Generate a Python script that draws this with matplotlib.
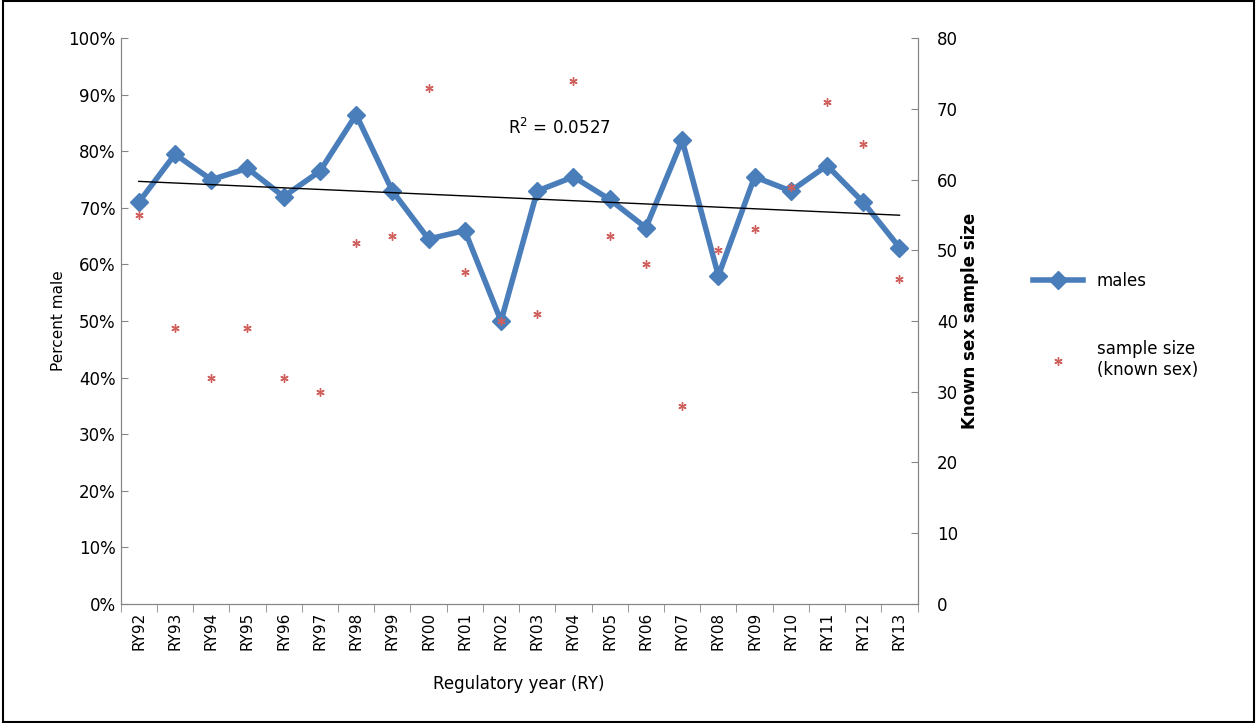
import numpy as np
import matplotlib.pyplot as plt
from matplotlib.ticker import PercentFormatter

years = ['RY92', 'RY93', 'RY94', 'RY95', 'RY96', 'RY97', 'RY98', 'RY99', 'RY00', 'RY01', 'RY02',
         'RY03', 'RY04', 'RY05', 'RY06', 'RY07', 'RY08', 'RY09', 'RY10', 'RY11', 'RY12', 'RY13']
males = [71, 79.5, 75, 77, 72, 76.5, 86.5, 73, 64.5, 66, 50,
         73, 75.5, 71.5, 66.5, 82, 58, 75.5, 73, 77.5, 71, 63]
sample_size = [55, 39, 32, 39, 32, 30, 51, 52, 73, 47, 40,
               41, 74, 52, 48, 28, 50, 53, 59, 71, 65, 46]

plt.rcParams['font.family'] = 'DejaVu Sans'
fig = plt.figure(figsize=(12.57, 7.23), dpi=100)
ax = fig.add_axes([0.096, 0.165, 0.634, 0.782])
ax2 = ax.twinx()

x = np.arange(len(years))
line, = ax.plot(x, males, color='#4a7ebb', lw=4, marker='D', ms=9, label='males', zorder=3)
coef = np.polyfit(x, males, 1)
ax.plot(x, np.polyval(coef, x), color='black', lw=1, zorder=4)
ax.text(10.2, 83, 'R$^2$ = 0.0527', fontsize=12)
pts, = ax2.plot(x, sample_size, ls='none', marker=(6, 2, 0), ms=6, mew=1,
                color='#d0605d', label='sample size\n(known sex)')

ax.set_xlim(-0.5, len(years) - 0.5)
ax.set_ylim(0, 100)
ax2.set_ylim(0, 80)
ax.set_yticks(np.arange(0, 101, 10))
ax.yaxis.set_major_formatter(PercentFormatter(decimals=0))
ax2.set_yticks(np.arange(0, 81, 10))
ax.set_xticks(x)
ax.set_xticklabels(years, rotation=90, fontsize=11)
ax.set_xticks(np.arange(-0.5, len(years)), minor=True)
ax.tick_params(axis='x', which='major', length=0, pad=6)
ax.tick_params(axis='x', which='minor', length=6, color='#868686')
ax.tick_params(axis='y', labelsize=12, color='#868686', direction='in', length=5)
ax2.tick_params(axis='y', labelsize=12, color='#868686', direction='in', length=5, pad=14)
for a in (ax, ax2):
    a.spines['top'].set_visible(False)
    for s in ['left', 'right', 'bottom']:
        a.spines[s].set_color('#868686')
ax.set_ylabel('Percent male', fontsize=11, labelpad=2)
ax2.set_ylabel('Known sex sample size', fontsize=12, fontweight='bold', labelpad=2)
ax.set_xlabel('Regulatory year (RY)', fontsize=12, labelpad=18)

fig.legend(handles=[line, pts], loc='center left', bbox_to_anchor=(0.81, 0.55),
           frameon=False, fontsize=12, labelspacing=3.0, handlelength=3)
fig.patches.append(plt.Rectangle((0.002, 0.002), 0.996, 0.996, transform=fig.transFigure,
                                 fill=False, edgecolor='black', lw=1.5))
fig.savefig('out.png')
